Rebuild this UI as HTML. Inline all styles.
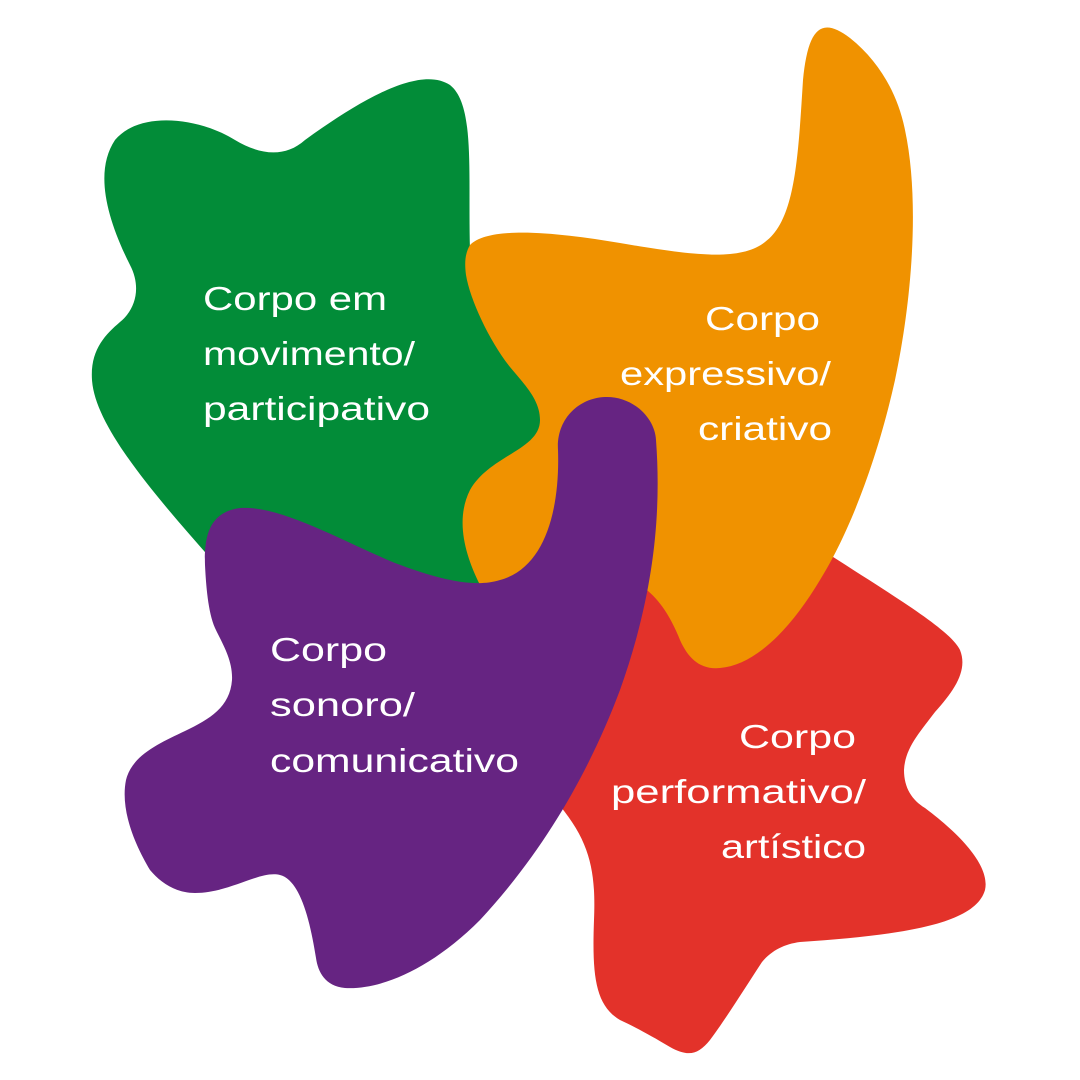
<!DOCTYPE html>
<html><head><meta charset="utf-8"><style>
html,body{margin:0;padding:0;background:#fff;}
svg{display:block;}
text{font-family:"Liberation Sans",sans-serif;font-size:33px;fill:#fff;}
</style></head><body>
<svg width="1080" height="1080" viewBox="0 0 1080 1080" xmlns="http://www.w3.org/2000/svg">
<path fill="#028c38" d="M130,265 C105,215 95,170 115,140 C140,110 200,118 235,140 C260,155 285,158 305,140 C360,100 420,65 450,85 C475,105 468,170 470,250 L620,252 L620,560 L490,605 L212,560 C150,490 95,425 92,380 C90,350 105,335 120,322 C135,310 142,288 130,265 Z"/>
<path fill="#e3322a" d="M620,570 L830,555 C900,600 950,630 960,650 C968,670 955,690 935,712 C920,732 905,748 904,770 C904,788 912,800 925,808 C965,838 990,868 985,890 C975,925 900,935 800,942 C785,944 772,950 762,962 C745,988 725,1020 710,1040 C698,1055 688,1057 670,1047 C650,1035 635,1027 620,1020 C595,1005 592,975 594,920 C596,870 590,840 555,800 Z"/>
<path fill="#f09200" d="M470,245 C490,225 560,233 620,243 C690,255 740,262 765,242 C795,220 798,160 803,80 C808,30 820,15 850,38 C880,62 898,95 905,130 C920,200 912,300 895,380 C875,470 845,540 820,580 C790,630 755,665 720,668 C700,670 688,658 680,640 C668,610 655,595 640,585 L480,585 C465,555 455,520 470,490 C490,455 540,450 540,420 C540,400 525,385 510,367 C490,342 470,300 466,275 C464,260 466,252 470,245 Z"/>
<path fill="#662482" d="M558,450 C556,420 578,398 605,397 C633,396 655,418 656,440 C662,520 652,600 620,690 C590,770 545,850 480,920 C430,970 380,990 345,988 C325,986 318,972 316,958 C310,920 300,880 280,875 C260,870 230,893 195,893 C175,893 160,882 150,870 C135,845 120,810 126,780 C132,755 160,743 185,731 C210,719 230,707 232,680 C233,660 222,643 215,628 C208,612 206,585 205,565 C204,535 210,512 240,508 C280,505 340,540 395,563 C440,580 475,588 500,580 C545,568 560,510 558,450 Z"/>
<text x="203" y="310" textLength="184" lengthAdjust="spacingAndGlyphs">Corpo em</text>
<text x="203" y="365" textLength="212" lengthAdjust="spacingAndGlyphs">movimento/</text>
<text x="203" y="420" textLength="227" lengthAdjust="spacingAndGlyphs">participativo</text>
<text x="705" y="330" textLength="115" lengthAdjust="spacingAndGlyphs">Corpo</text>
<text x="620" y="385" textLength="211" lengthAdjust="spacingAndGlyphs">expressivo/</text>
<text x="698" y="440" textLength="134" lengthAdjust="spacingAndGlyphs">criativo</text>
<text x="270" y="661" textLength="117" lengthAdjust="spacingAndGlyphs">Corpo</text>
<text x="270" y="716" textLength="145" lengthAdjust="spacingAndGlyphs">sonoro/</text>
<text x="270" y="772" textLength="249" lengthAdjust="spacingAndGlyphs">comunicativo</text>
<text x="739" y="748" textLength="117" lengthAdjust="spacingAndGlyphs">Corpo</text>
<text x="611" y="803" textLength="255" lengthAdjust="spacingAndGlyphs">performativo/</text>
<text x="721" y="858" textLength="145" lengthAdjust="spacingAndGlyphs">artístico</text>
</svg>
</body></html>
